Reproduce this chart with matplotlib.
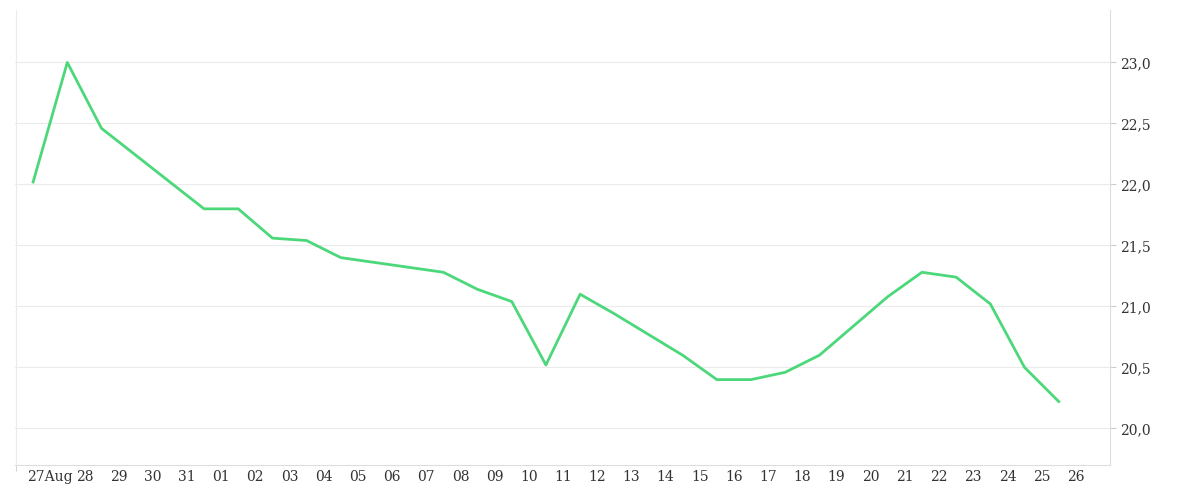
import numpy as np
import matplotlib.pyplot as plt

# daily values, 26 Aug .. 25 Sep
values = [22.02, 23.0, 22.46, 22.24, 22.02, 21.8, 21.8, 21.56, 21.54, 21.4,
          21.36, 21.32, 21.28, 21.14, 21.04, 20.52, 21.1, 20.94, 20.77, 20.6,
          20.4, 20.4, 20.46, 20.6, 20.84, 21.08, 21.28, 21.24, 21.02, 20.5, 20.22]
day_labels = ['27Aug', '28', '29', '30', '31', '01', '02', '03', '04', '05', '06',
              '07', '08', '09', '10', '11', '12', '13', '14', '15', '16', '17',
              '18', '19', '20', '21', '22', '23', '24', '25', '26']
y_ticks = [20.0, 20.5, 21.0, 21.5, 22.0, 22.5, 23.0]

fig = plt.figure(figsize=(12, 5), dpi=100)
ax = fig.add_axes([15/1200, 35/500, 1095/1200, 455/500])
x = np.arange(len(values))
ax.plot(x, values, color='#4cd87a', lw=2)

ax.set_xlim(-0.53, 31.5)
ax.set_ylim(19.70, 23.43)
ax.set_xticks(x + 0.5)
ax.set_xticklabels(day_labels)
ax.set_xticks(np.arange(-0.5, 31.5, 1), minor=True)
ax.set_yticks(np.arange(19.75, 23.5, 0.25), minor=True)
ax.yaxis.tick_right()
ax.set_yticks(y_ticks)
ax.set_yticklabels([f'{v:.1f}'.replace('.', ',') for v in y_ticks])
ax.grid(True, which='minor', axis='x', color='#ebebeb', lw=0.8)
ax.grid(True, which='major', axis='y', color='#ebebeb', lw=0.8)
ax.tick_params(which='both', length=4, color='#cccccc', labelsize=10,
               labelcolor='#333333', labelfontfamily='DejaVu Serif')
ax.tick_params(which='major', axis='x', length=0)
ax.tick_params(which='minor', axis='y', length=0)
for s in ['top', 'left']:
    ax.spines[s].set_visible(False)
for s in ['bottom', 'right']:
    ax.spines[s].set_color('#dddddd')

fig.savefig('out.png')
